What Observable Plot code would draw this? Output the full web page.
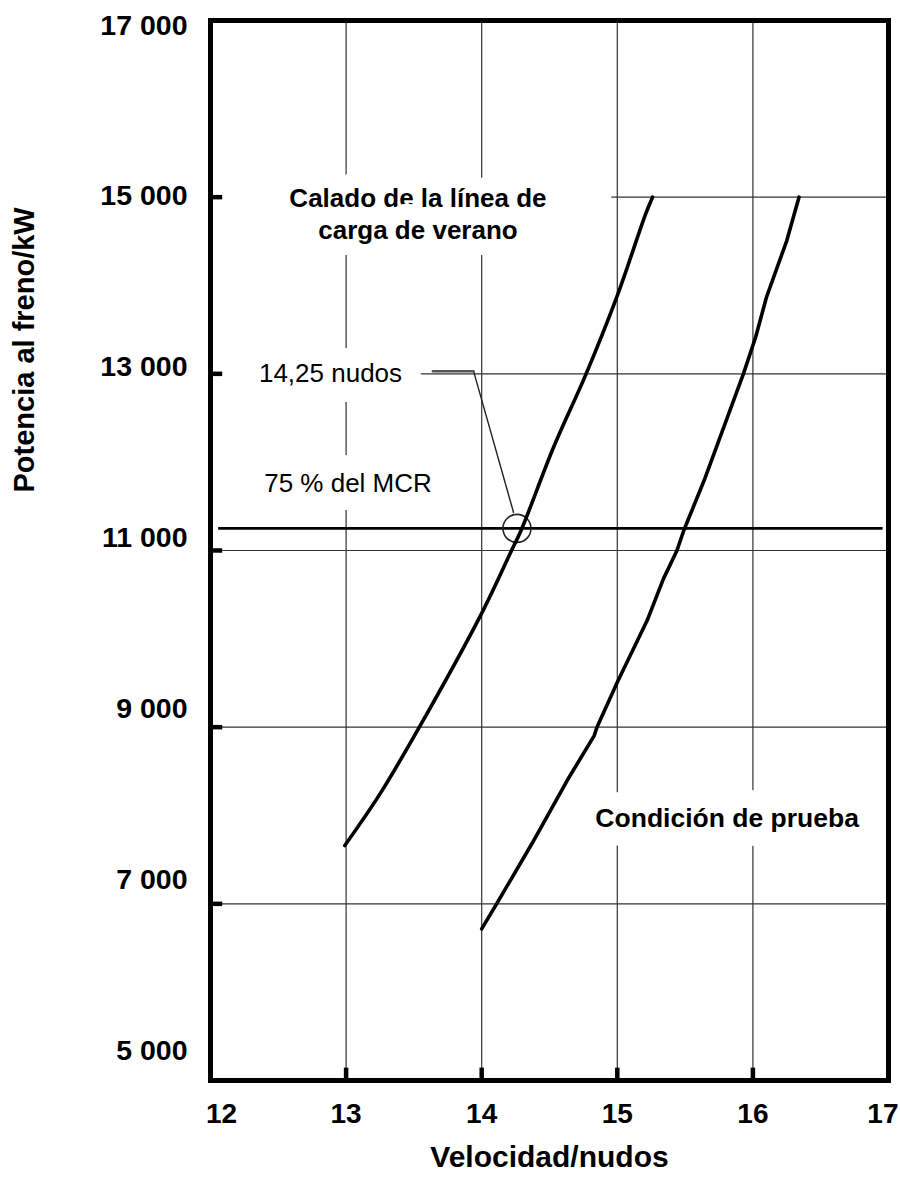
<!DOCTYPE html>
<html>
<head>
<meta charset="utf-8">
<script src="https://cdn.jsdelivr.net/npm/d3@7"></script>
<script src="https://cdn.jsdelivr.net/npm/@observablehq/plot@0.6"></script>
<style>
  html, body { margin: 0; padding: 0; background: #fff; }
  #chart svg { display: block; }
</style>
</head>
<body>
<div id="chart"></div>
<script>
// ---- data ----
const summerSpeed = [12.99, 13.25, 13.54, 14.01, 14.22, 14.29, 14.53, 14.77, 15.0, 15.21, 15.26];
const summerPower = [7660, 8245, 9000, 10320, 11000, 11226, 12169, 13000, 13886, 14814, 15000];

const testSpeed = [14.0, 14.11, 14.37, 14.63, 14.83, 14.85, 15.0, 15.22, 15.34, 15.44, 15.49, 15.64, 15.93, 16.02, 16.1, 16.25, 16.34];
const testPower = [6717, 7000, 7680, 8396, 8905, 9000, 9509, 10207, 10679, 11000, 11226, 11792, 13000, 13414, 13867, 14509, 15000];

const mcrPower = 11250;          // 75 % del MCR
const mcrSpeed = 14.26;          // 14,25 nudos
const mcrLineFrom = 12.06, mcrLineTo = 16.96;

const xTickValues = [12, 13, 14, 15, 16, 17];
const xTickLabels = ["12", "13", "14", "15", "16", "17"];
const yTickValues = [5000, 7000, 9000, 11000, 13000, 15000, 17000];
const yTickLabels = ["5 000", "7 000", "9 000", "11 000", "13 000", "15 000", "17 000"];

const vGridValues = [13, 14, 15, 16];
const hGridValues = [15000, 13000, 11000, 9000, 7000];
const hGridStart = [14.96, 13.51, 12, 12, 12];

const leaderSpeed = [13.64, 13.94, 14.235];
const leaderPower = [13030, 13030, 11430];

const annoText = ["Calado de la línea de\ncarga de verano", "14,25 nudos", "75 % del MCR", "Condición de prueba"];
const annoSpeed = [13.53, 12.885, 13.014, 15.81];
const annoPower = [14820, 13000, 11758, 7966];

const xTitle = "Velocidad/nudos";
const yTitle = "Potencia al freno/kW";

// ---- tables ----
const summer = summerSpeed.map((x, i) => ({x, y: summerPower[i]}));
const test = testSpeed.map((x, i) => ({x, y: testPower[i]}));
const hGrid = hGridValues.map((y, i) => ({y, x1: hGridStart[i]}));
const leader = leaderSpeed.map((x, i) => ({x, y: leaderPower[i]}));
const anno = annoText.map((t, i) => ({t, x: annoSpeed[i], y: annoPower[i]}));
const xTicks = xTickValues.map((v, i) => ({v, label: xTickLabels[i]}));
const yTicks = yTickValues.map((v, i) => ({v, label: yTickLabels[i]}));
// the original's y labels sit on a slightly compressed ladder
const yLabelPos = v => 5340 + (v - 5000) * 0.967;

const FONT = "'Liberation Sans', Arial, sans-serif";
const GRID = "#333";
const labelStyle = {fontSize: 28, fontWeight: "bold", fill: "black"};

const plot = Plot.plot({
  width: 900,
  height: 1185,
  marginTop: 20,
  marginRight: 12,
  marginBottom: 105,
  marginLeft: 210,
  x: {domain: [12, 17], axis: null},
  y: {domain: [5000, 17000], axis: null},
  style: {fontFamily: FONT, background: "white", overflow: "visible"},
  marks: [
    // grid
    Plot.ruleX(vGridValues, {x: d => d, stroke: GRID, strokeWidth: 1.2}),
    Plot.ruleY(hGrid, {y: "y", x1: "x1", x2: 17, stroke: GRID, strokeWidth: 1.2}),
    // annotations with white halos that break the grid
    Plot.text([anno[0]], {x: "x", y: "y", text: "t", fontSize: 26, fontWeight: "bold", lineHeight: 1.2,
      fill: "black", stroke: "white", strokeWidth: 32, strokeLinejoin: "round"}),
    Plot.text([anno[1]], {x: "x", y: "y", text: "t", fontSize: 26,
      fill: "black", stroke: "white", strokeWidth: 40, strokeLinejoin: "round"}),
    Plot.text([anno[2]], {x: "x", y: "y", text: "t", fontSize: 26,
      fill: "black", stroke: "white", strokeWidth: 36, strokeLinejoin: "round"}),
    Plot.text([anno[3]], {x: "x", y: "y", text: "t", fontSize: 26.5, fontWeight: "bold",
      fill: "black", stroke: "white", strokeWidth: 38, strokeLinejoin: "round"}),
    // 75 % MCR line
    Plot.ruleY([mcrPower], {y: d => d, x1: mcrLineFrom, x2: mcrLineTo, stroke: "black", strokeWidth: 2.6}),
    // leader + circle
    Plot.line(leader, {x: "x", y: "y", stroke: "#222", strokeWidth: 1.4}),
    Plot.line(leader.slice(0, 2), {x: "x", y: "y", stroke: "#555", strokeWidth: 2.4}),
    Plot.dot([{x: mcrSpeed, y: mcrPower}], {x: "x", y: "y", r: 14, stroke: "#222", strokeWidth: 1.6, fill: "none"}),
    // curves
    Plot.line(summer, {x: "x", y: "y", stroke: "black", strokeWidth: 3.6, strokeLinecap: "round", curve: "catmull-rom"}),
    Plot.line(test, {x: "x", y: "y", stroke: "black", strokeWidth: 3.6, strokeLinecap: "round"}),
    // frame
    Plot.frame({stroke: "black", strokeWidth: 5}),
    // tick stubs
    Plot.ruleY(yTickValues.slice(1, -1), {y: d => d, x1: 12, x2: 12.09, stroke: "black", strokeWidth: 4.5}),
    Plot.ruleX(xTickValues.slice(1, -1), {x: d => d, y1: 5000, y2: 5140, stroke: "black", strokeWidth: 4.5}),
    // x tick labels
    Plot.text(xTicks.slice(0, 1), {x: "v", text: "label", frameAnchor: "bottom", dy: 42, dx: 11, ...labelStyle}),
    Plot.text(xTicks.slice(1, -1), {x: "v", text: "label", frameAnchor: "bottom", dy: 42, ...labelStyle}),
    Plot.text(xTicks.slice(-1), {x: "v", text: "label", frameAnchor: "bottom", dy: 42, textAnchor: "end", dx: 10, ...labelStyle}),
    // y tick labels
    Plot.text(yTicks, {y: d => yLabelPos(d.v), text: "label", frameAnchor: "left", dx: -23, textAnchor: "end",
      fontSize: 28.5, fontWeight: "bold", fill: "black"}),
    // titles
    Plot.text([xTitle], {text: d => d, frameAnchor: "bottom", dy: 86, fontSize: 30, fontWeight: "bold", fill: "black"}),
    Plot.text([yTitle], {text: d => d, frameAnchor: "left", rotate: -90, dx: -186, dy: -58,
      fontSize: 29, fontWeight: "bold", fill: "black"})
  ]
});
document.getElementById("chart").appendChild(plot);
</script>
</body>
</html>
